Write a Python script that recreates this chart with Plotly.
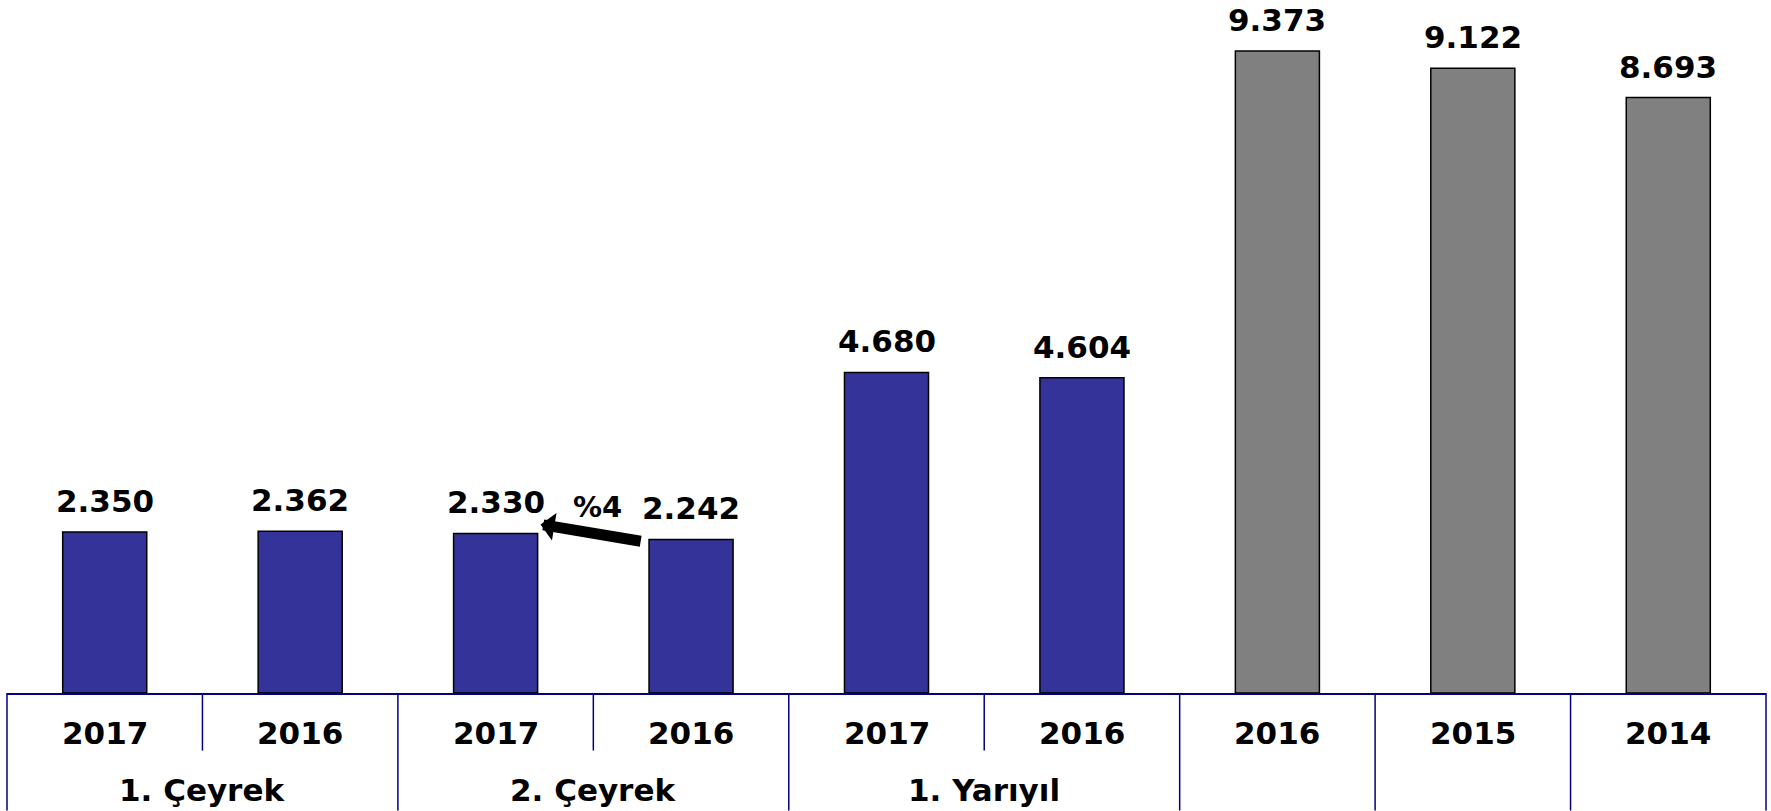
import plotly.graph_objects as go

# ---- data ----
years = ["2017", "2016", "2017", "2016", "2017", "2016", "2016", "2015", "2014"]
values = [2350, 2362, 2330, 2242, 4680, 4604, 9373, 9122, 8693]
bar_colors = ["#333399"] * 6 + ["#808080"] * 3
groups = ["1. Çeyrek", "2. Çeyrek", "1. Yarıyıl"]
group_members = [[0, 1], [2, 3], [4, 5]]
change_label = "%4"
change_from, change_to = 3, 2

n = len(values)
xs = list(range(n))
FONT = dict(family="DejaVu Sans", size=31, color="black", weight="bold")
NAVY = "#000080"


def fmt(v):
    return f"{v:,}".replace(",", ".")


fig = go.Figure()
fig.add_trace(go.Bar(
    x=xs, y=values, width=0.43,
    marker=dict(color=bar_colors, line=dict(color="black", width=1.5)),
    hoverinfo="skip",
))

annotations = []
for x, v in zip(xs, values):
    annotations.append(dict(x=x, y=v, xref="x", yref="y", text=fmt(v),
                            showarrow=False, yanchor="bottom", yshift=11, font=FONT))
for x, yr in zip(xs, years):
    annotations.append(dict(x=x, y=0, xref="x", yref="paper", text=yr,
                            showarrow=False, yanchor="middle", yshift=-40, font=FONT))
for g, mem in zip(groups, group_members):
    annotations.append(dict(x=sum(mem) / len(mem), y=0, xref="x", yref="paper", text=g,
                            showarrow=False, yanchor="middle", yshift=-97, font=FONT))

# change arrow from 2016 Q2 bar towards 2017 Q2 label
annotations.append(dict(
    x=change_to + 0.23, y=values[change_to] + 130, xref="x", yref="y",
    ax=change_from - 0.25, ay=values[change_from] - 30, axref="x", ayref="y",
    showarrow=True, arrowhead=1, arrowwidth=11, arrowsize=0.42, arrowcolor="black",
    text="", standoff=0, startstandoff=0,
))
annotations.append(dict(
    x=(change_to + change_from) / 2 + 0.02, y=values[change_to] + 380, xref="x", yref="y",
    text=change_label, showarrow=False, font=dict(family="DejaVu Sans", size=29,
                                                   color="black", weight="bold"),
))

shapes = []
long_bounds = {0, n}
for mem in group_members:
    long_bounds.add(mem[0])
    long_bounds.add(mem[-1] + 1)
for k in range(n):
    if not any(m[0] < k <= m[-1] for m in group_members):
        long_bounds.add(k)
for k in range(n + 1):
    y1 = -0.1715 if k in long_bounds else -0.084
    shapes.append(dict(type="line", xref="paper", yref="paper", x0=k / n, x1=k / n,
                       y0=0, y1=y1, line=dict(color=NAVY, width=1.5)))

fig.update_layout(
    width=1771, height=811,
    margin=dict(l=7, r=5, t=8, b=118),
    paper_bgcolor="white", plot_bgcolor="white",
    showlegend=False,
    xaxis=dict(range=[-0.5, n - 0.5], showgrid=False, zeroline=False,
               showticklabels=False, ticks="", showline=True,
               linecolor=NAVY, linewidth=2, fixedrange=True),
    yaxis=dict(range=[0, 10000], visible=False, fixedrange=True),
    annotations=annotations,
    shapes=shapes,
)

# remove the browser's default 8px body margin so the figure fills the window
fig.write_html("out.html", config={"displayModeBar": False},
               post_script="document.body.style.margin='0';")
